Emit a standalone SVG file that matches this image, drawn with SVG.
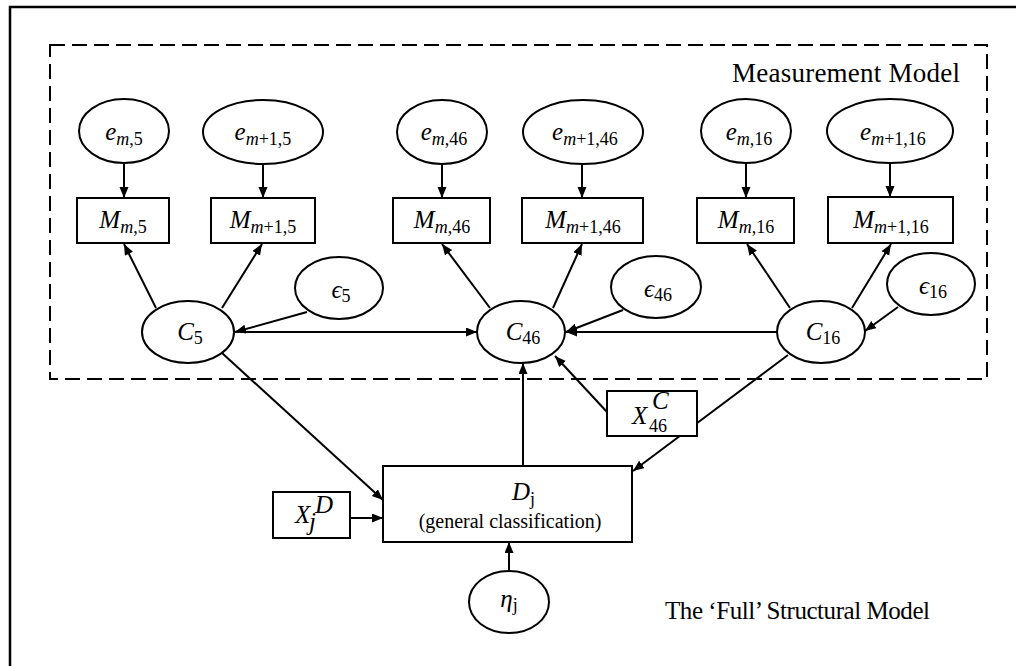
<svg xmlns="http://www.w3.org/2000/svg" width="1016" height="666" viewBox="0 0 1016 666">
<style>
.shape{fill:#fff;stroke:#000;stroke-width:2}
.con{stroke:#000;stroke-width:2;fill:none;marker-end:url(#ah)}
.lbl{font-family:"Liberation Serif","Times New Roman",serif;font-size:25px;font-style:italic;fill:#000}
.sub{font-size:18px;font-style:normal}
.it{font-style:italic}
.plain{font-family:"Liberation Serif","Times New Roman",serif;fill:#000}
</style>
<defs>
<marker id="ah" markerUnits="userSpaceOnUse" markerWidth="12" markerHeight="10" refX="11" refY="4.5" orient="auto">
<path d="M0,0 L11,4.5 L0,9 z" fill="#000"/>
</marker>
</defs>
<rect x="10" y="7" width="1040" height="700" fill="#fff" stroke="#000" stroke-width="2.5"/>
<rect id="measurement-box" x="50" y="45" width="937" height="334" fill="none" stroke="#000" stroke-width="2" stroke-dasharray="15 7"/>
<text class="plain" x="732" y="82" font-size="27" textLength="228" lengthAdjust="spacing">Measurement Model</text>
<text class="plain" x="665" y="619" font-size="25" textLength="265" lengthAdjust="spacing">The ‘Full’ Structural Model</text>

<g id="connectors">
<line class="con" x1="124" y1="163" x2="124" y2="198"/>
<line class="con" x1="263" y1="164" x2="263" y2="198"/>
<line class="con" x1="442" y1="164" x2="442" y2="198"/>
<line class="con" x1="582" y1="164" x2="582" y2="198"/>
<line class="con" x1="746" y1="164" x2="746" y2="198"/>
<line class="con" x1="890" y1="164" x2="890" y2="197"/>
<line class="con" x1="156" y1="308" x2="124" y2="244"/>
<line class="con" x1="222" y1="308" x2="262" y2="244"/>
<line class="con" x1="490" y1="308" x2="442" y2="244"/>
<line class="con" x1="553" y1="308" x2="582" y2="244"/>
<line class="con" x1="790" y1="308" x2="747" y2="244"/>
<line class="con" x1="852" y1="308" x2="891" y2="244"/>
<line class="con" x1="307" y1="312" x2="235" y2="332"/>
<line class="con" x1="623" y1="310" x2="566" y2="332"/>
<line class="con" x1="898" y1="307" x2="865" y2="331"/>
<line class="con" x1="234" y1="332" x2="477" y2="332"/>
<line class="con" x1="777" y1="332" x2="566" y2="332"/>
<line class="con" x1="523" y1="466" x2="523" y2="363"/>
<line class="con" x1="607" y1="412" x2="555" y2="356"/>
<line class="con" x1="222" y1="353" x2="383" y2="500"/>
<line class="con" x1="788" y1="355" x2="633" y2="471"/>
<line class="con" x1="350" y1="518" x2="383" y2="518"/>
<line class="con" x1="509" y1="571" x2="509" y2="542"/>
</g>

<g id="e_m5"><ellipse class="shape" cx="124" cy="131" rx="45" ry="32"/><text class="lbl" x="124" y="140" text-anchor="middle">e<tspan class="sub" dy="5"><tspan class="it">m</tspan>,5</tspan></text></g>
<g id="e_m1_5"><ellipse class="shape" cx="263" cy="132" rx="60" ry="32"/><text class="lbl" x="263" y="140" text-anchor="middle">e<tspan class="sub" dy="5"><tspan class="it">m</tspan>+1,5</tspan></text></g>
<g id="e_m46"><ellipse class="shape" cx="442" cy="132" rx="45" ry="32"/><text class="lbl" x="444" y="140" text-anchor="middle">e<tspan class="sub" dy="5"><tspan class="it">m</tspan>,46</tspan></text></g>
<g id="e_m1_46"><ellipse class="shape" cx="583" cy="132" rx="60" ry="32"/><text class="lbl" x="585" y="140" text-anchor="middle">e<tspan class="sub" dy="5"><tspan class="it">m</tspan>+1,46</tspan></text></g>
<g id="e_m16"><ellipse class="shape" cx="746" cy="131" rx="45" ry="32"/><text class="lbl" x="749" y="140" text-anchor="middle">e<tspan class="sub" dy="5"><tspan class="it">m</tspan>,16</tspan></text></g>
<g id="e_m1_16"><ellipse class="shape" cx="890" cy="131" rx="63" ry="32"/><text class="lbl" x="893" y="140" text-anchor="middle">e<tspan class="sub" dy="5"><tspan class="it">m</tspan>+1,16</tspan></text></g>

<g id="M_m5"><rect class="shape" x="77" y="198" width="92" height="45"/><text class="lbl" x="123" y="228" text-anchor="middle">M<tspan class="sub" dy="5"><tspan class="it">m</tspan>,5</tspan></text></g>
<g id="M_m1_5"><rect class="shape" x="211" y="198" width="104" height="45"/><text class="lbl" x="263" y="228" text-anchor="middle">M<tspan class="sub" dy="5"><tspan class="it">m</tspan>+1,5</tspan></text></g>
<g id="M_m46"><rect class="shape" x="393" y="198" width="97" height="45"/><text class="lbl" x="442" y="228" text-anchor="middle">M<tspan class="sub" dy="5"><tspan class="it">m</tspan>,46</tspan></text></g>
<g id="M_m1_46"><rect class="shape" x="522" y="198" width="121" height="45"/><text class="lbl" x="583" y="228" text-anchor="middle">M<tspan class="sub" dy="5"><tspan class="it">m</tspan>+1,46</tspan></text></g>
<g id="M_m16"><rect class="shape" x="697" y="198" width="97" height="45"/><text class="lbl" x="746" y="228" text-anchor="middle">M<tspan class="sub" dy="5"><tspan class="it">m</tspan>,16</tspan></text></g>
<g id="M_m1_16"><rect class="shape" x="828" y="197" width="125" height="46"/><text class="lbl" x="891" y="228" text-anchor="middle">M<tspan class="sub" dy="5"><tspan class="it">m</tspan>+1,16</tspan></text></g>

<g id="C5"><ellipse class="shape" cx="188" cy="332" rx="46" ry="31"/><text class="lbl" x="190" y="340" text-anchor="middle">C<tspan class="sub" dy="4">5</tspan></text></g>
<g id="C46"><ellipse class="shape" cx="521" cy="332" rx="44" ry="31"/><text class="lbl" x="523" y="340" text-anchor="middle">C<tspan class="sub" dy="4">46</tspan></text></g>
<g id="C16"><ellipse class="shape" cx="821" cy="332" rx="44" ry="31"/><text class="lbl" x="823" y="340" text-anchor="middle">C<tspan class="sub" dy="4">16</tspan></text></g>

<g id="eps5"><ellipse class="shape" cx="339" cy="288" rx="44" ry="31"/><text class="lbl" x="341" y="298" text-anchor="middle">ϵ<tspan class="sub" dy="4">5</tspan></text></g>
<g id="eps46"><ellipse class="shape" cx="656" cy="287" rx="45" ry="31"/><text class="lbl" x="658" y="297" text-anchor="middle">ϵ<tspan class="sub" dy="4">46</tspan></text></g>
<g id="eps16"><ellipse class="shape" cx="931" cy="284" rx="44" ry="31"/><text class="lbl" x="933" y="294" text-anchor="middle">ϵ<tspan class="sub" dy="4">16</tspan></text></g>

<g id="X46C"><rect class="shape" x="607" y="391" width="90" height="45"/><text class="lbl" x="632" y="424">X</text><text class="lbl" x="652" y="409" font-size="17">C</text><text class="lbl sub" x="649" y="432" font-size="17">46</text></g>

<g id="XjD"><rect class="shape" x="273" y="492" width="77" height="46"/><text class="lbl" x="295" y="523">X</text><text class="lbl" x="315" y="513" font-size="17">D</text><text class="lbl" x="309" y="530" font-size="17">j</text></g>

<g id="Dj"><rect class="shape" x="383" y="466" width="249" height="76"/><text class="lbl" x="512" y="500">D<tspan class="sub" dy="5">j</tspan></text><text class="plain" x="510" y="528" font-size="20" text-anchor="middle">(general classification)</text></g>

<g id="eta_j"><ellipse class="shape" cx="509" cy="602" rx="40" ry="31"/><text class="lbl" x="509" y="607" text-anchor="middle">η<tspan class="sub" dy="4">j</tspan></text></g>
</svg>
